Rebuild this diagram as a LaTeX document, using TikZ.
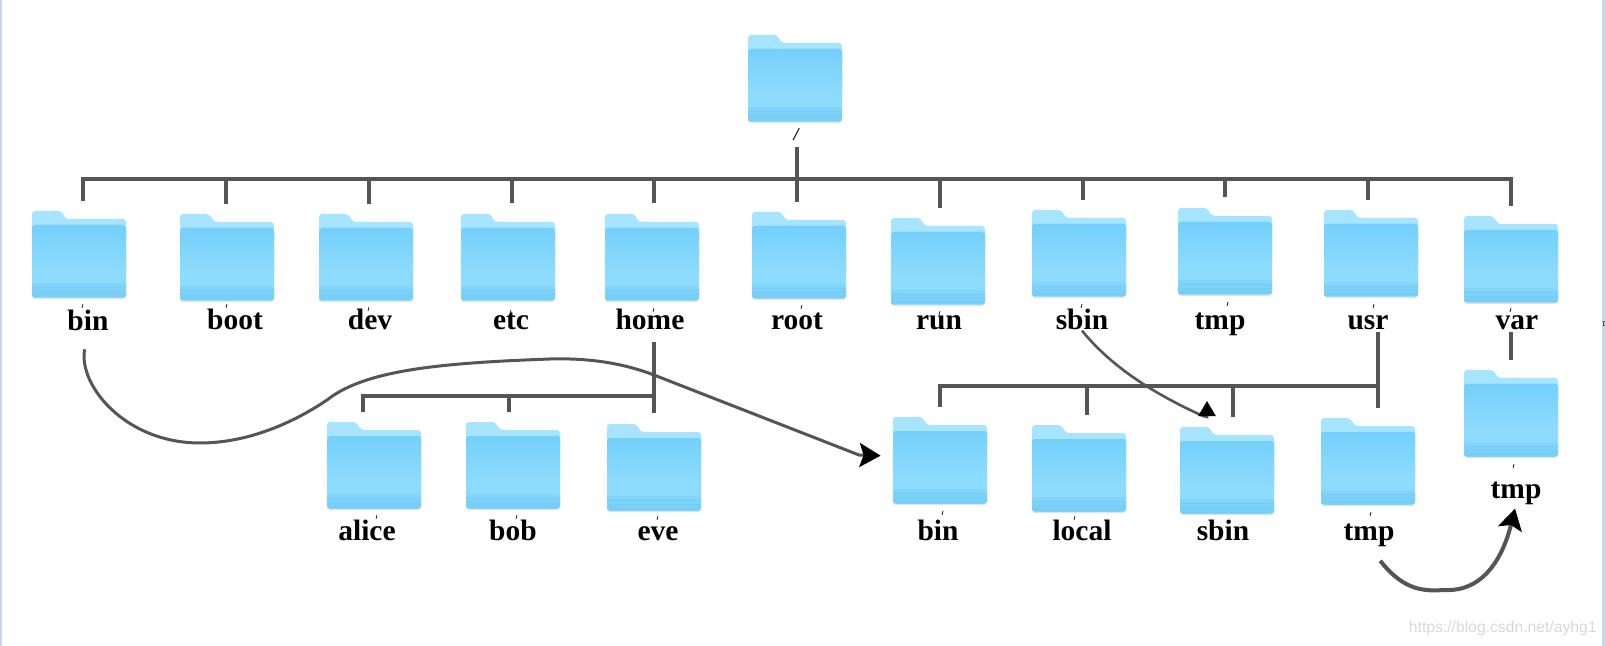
\documentclass[tikz,border=0pt]{standalone}
\usepackage{fontspec}
\setmainfont{Liberation Serif}
\newfontfamily\marksans{Liberation Sans}
\usetikzlibrary{arrows.meta}
\definecolor{folderback}{HTML}{A6E4FF}
\definecolor{foldertop}{HTML}{74D0FB}
\definecolor{foldermid}{HTML}{8EDCFD}
\definecolor{folderband}{HTML}{84D7FB}
\definecolor{folderlow}{HTML}{74CCF5}
\definecolor{foldershade}{HTML}{DDE4E8}
\definecolor{linegray}{HTML}{555555}
\definecolor{sideblue}{HTML}{C9D5E9}
\begin{document}
\begin{tikzpicture}[
        x=0.5pt, y=-0.5pt,
        folder/.pic={
            \fill[foldershade, rounded corners=1.5pt] (0,60) rectangle (94,88);
            \fill[folderback, rounded corners=1.5pt] (0,30) -- (0,0) -- (29,0) -- (34,8) -- (94,8) -- (94,30) -- cycle;
            \fill[foldermid, rounded corners=1.5pt] (0,14) rectangle (94,86.5);
            \shade[top color=foldertop, bottom color=foldermid, rounded corners=1.5pt] (0,60) -- (0,14) -- (94,14) [sharp corners] -- (94,60) -- cycle;
            \shade[top color=folderband, bottom color=folderlow, rounded corners=1.5pt] (0,72) -- (0,86.5) -- (94,86.5) -- (94,72) [sharp corners] -- cycle;
            \draw[folderlow, line width=0.3pt] (0.5,76) -- (93.5,76) (0.5,80) -- (93.5,80);
            \node[minimum width=47pt, minimum height=44pt, inner sep=0pt] (-body) at (47,44) {};
        },
        dirname/.style={anchor=base, inner sep=0pt, font=\fontsize{14.75}{16}\selectfont\bfseries},
        branch/.style={linegray, line width=2pt},
        link/.style={linegray, line width=1.5pt},
        biglink/.style={link, -{Stealth[length=10.5pt, width=12pt, inset=2pt, black]}},
        tickmark/.style={black, line width=0.35pt}
    ]
    \useasboundingbox (0,0) rectangle (1605,646);
    \fill[white] (0,0) rectangle (1605,646);

    % Window edges
    \fill[sideblue] (0,0) rectangle (2,646);
    \fill[sideblue] (1602,0) rectangle (1605,646);
    \draw[linegray, line width=0.3pt] (1603,321) rectangle (1605,325);

    % Root folder
    \pic (froot) at (748,35) {folder};
    \node[font=\fontsize{9}{10}\selectfont\bfseries\itshape, inner sep=0pt] (lroot) at (796,135) {/};

    % First level folders
    \pic (fbin) at (32,211) {folder};
    \pic (fboot) at (180,214) {folder};
    \pic (fdev) at (319,214) {folder};
    \pic (fetc) at (461,214) {folder};
    \pic (fhome) at (605,214) {folder};
    \pic (frootdir) at (752,212) {folder};
    \pic (frun) at (891,218) {folder};
    \pic (fsbin) at (1032,210) {folder};
    \pic (ftmp) at (1178,208) {folder};
    \pic (fusr) at (1324,210) {folder};
    \pic (fvar) at (1464,216) {folder};

    % First level names
    \node[dirname] (lbin) at (88,331) {bin};
    \node[dirname] (lboot) at (235,330) {boot};
    \node[dirname] (ldev) at (370,330) {dev};
    \node[dirname] (letc) at (511,330) {etc};
    \node[dirname] (lhome) at (650,330) {home};
    \node[dirname] (lrootdir) at (797,330) {root};
    \node[dirname] (lrun) at (939,330) {run};
    \node[dirname] (lsbin) at (1082,330) {sbin};
    \node[dirname] (ltmp) at (1220,330) {tmp};
    \node[dirname] (lusr) at (1368,330) {usr};
    \node[dirname] (lvar) at (1517,330) {var};

    % Folders under home
    \pic (falice) at (327,422) {folder};
    \pic (fbob) at (466,422) {folder};
    \pic (feve) at (607,424) {folder};
    \node[dirname] (lalice) at (367,540) {alice};
    \node[dirname] (lbob) at (513,540) {bob};
    \node[dirname] (leve) at (658,540) {eve};

    % Folders under usr
    \pic (fbintwo) at (893,417) {folder};
    \pic (flocal) at (1032,425) {folder};
    \pic (fsbintwo) at (1180,427) {folder};
    \pic (ftmptwo) at (1321,418) {folder};
    \node[dirname] (lbintwo) at (938,540) {bin};
    \node[dirname] (llocal) at (1082,540) {local};
    \node[dirname] (lsbintwo) at (1223,540) {sbin};
    \node[dirname] (ltmptwo) at (1369,540) {tmp};

    % Folder under var
    \pic (ftmpvar) at (1464,370) {folder};
    \node[dirname] (ltmpvar) at (1516,498) {tmp};

    % Free ends of the tree lines
    \coordinate (rootup) at (797,147);
    \coordinate (busleft) at (83,179);
    \coordinate (busright) at (1511,179);
    \coordinate (dbin) at (83,201);
    \coordinate (dboot) at (226,204);
    \coordinate (ddev) at (369,204);
    \coordinate (detc) at (512,203);
    \coordinate (dhome) at (654,203);
    \coordinate (drootdir) at (797,202);
    \coordinate (drun) at (940,208);
    \coordinate (dsbin) at (1083,200);
    \coordinate (dtmp) at (1225,197);
    \coordinate (dusr) at (1368,200);
    \coordinate (dvar) at (1511,206);
    \coordinate (homeup) at (654,342);
    \coordinate (homedown) at (654,413);
    \coordinate (dalice) at (363,412);
    \coordinate (dbob) at (509,412);
    \coordinate (usrup) at (1378,332);
    \coordinate (usrdown) at (1378,408);
    \coordinate (dbintwo) at (940,407);
    \coordinate (dlocal) at (1087,415);
    \coordinate (dsbintwo) at (1233,417);
    \coordinate (varup) at (1511,332);
    \coordinate (vardown) at (1511,360);
    \coordinate (sbinhead) at (1207,401);

    % Tree from the root
    \draw[branch] (rootup) -- (drootdir);
    \draw[branch] (dbin) -- (busleft) -- (busright) -- (dvar);
    \draw[branch] (dboot) -- (dboot |- busleft);
    \draw[branch] (ddev) -- (ddev |- busleft);
    \draw[branch] (detc) -- (detc |- busleft);
    \draw[branch] (dhome) -- (dhome |- busleft);
    \draw[branch] (drun) -- (drun |- busleft);
    \draw[branch] (dsbin) -- (dsbin |- busleft);
    \draw[branch] (dtmp) -- (dtmp |- busleft);
    \draw[branch] (dusr) -- (dusr |- busleft);

    % Tree under home
    \draw[branch] (homeup) -- (homedown);
    \draw[branch] (dalice) -- (dalice |- 0,396) -- (homeup |- 0,396);
    \draw[branch] (dbob) -- (dbob |- 0,396);

    % Tree under usr
    \draw[branch] (usrup) -- (usrdown);
    \draw[branch] (dbintwo) -- (dbintwo |- 0,386) -- (usrup |- 0,386);
    \draw[branch] (dlocal) -- (dlocal |- 0,386);
    \draw[branch] (dsbintwo) -- (dsbintwo |- 0,386);

    % var to its tmp
    \draw[branch] (varup) -- (vardown);

    % Curved links
    \draw[biglink, shorten <=9pt, shorten >=6pt] (lbin.south) .. controls (78,385) and (125,443) .. (200,443)
        .. controls (245,443) and (290,425) .. (327,400)
        .. controls (365,370) and (440,363) .. (550,359)
        .. controls (585,358) and (620,362) .. (654,375)
        -- (859,455) -- (fbintwo-body.174);
    \draw[link, line width=1.3pt, -{Triangle[length=7.5pt, width=8.5pt, black]}] (lsbin.south) .. controls (1110,365) and (1150,392) .. (1203,416)
        -- (1207,417) -- (sbinhead);
    \draw[biglink, line width=2pt, shorten <=9pt, shorten >=2pt] (ltmptwo.south) .. controls (1405,592) and (1425,591) .. (1445,590)
        .. controls (1490,592) and (1506,545) .. (ltmpvar.south);

    % Stray marks above the names
    \draw[tickmark] (83,304) -- +(-1,4) (227,304) -- +(-1,4) (369,307) -- +(-1,4) (511,310) -- +(-1,4)
        (654,308) -- +(-1,4) (802,305) -- +(-1,4) (940,311) -- +(-1,4) (1082,304) -- +(-1,4)
        (1228,302) -- +(-1,4) (1374,304) -- +(-1,4) (1511,308) -- +(-1,4);
    \draw[tickmark] (377,515) -- +(-1,4) (517,515) -- +(-1,4) (658,516) -- +(-1,4)
        (943,511) -- +(-1,4) (1075,516) -- +(-1,4) (1371,512) -- +(-1,4) (1514,464) -- +(-1,4);

    % Watermark
    \node[anchor=east, inner sep=0pt, text=black!15, font=\marksans\fontsize{7.85}{9}\selectfont] (lmark) at (1597,628) {https://blog.csdn.net/ayhg1};

\end{tikzpicture}
\end{document}
